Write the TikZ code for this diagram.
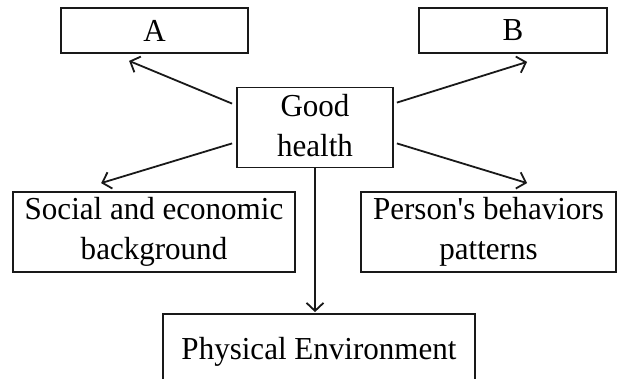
\documentclass[tikz,border=0pt]{standalone}
\usepackage{fontspec}
\setmainfont[FakeStretch=0.97]{Liberation Serif}
\usetikzlibrary{arrows.meta,calc}
\begin{document}
\begin{tikzpicture}[x=1pt,y={(0pt,-1pt)},
  box/.style={draw=black!90,line width=1.8pt,rectangle,inner sep=0pt,align=center,
    font=\fontsize{32}{40}\selectfont},
  arr/.style={draw=black!90,line width=1.8pt,-{Straight Barb[length=8pt,width=17pt,line width=1.8pt]}}]
\useasboundingbox (0,0) rectangle (619,378);
\clip (0,0) rectangle (619,378);
\node[box,minimum width=187pt,minimum height=45pt] (A) at (154.5,30.5) {A};
\node[box,minimum width=188pt,minimum height=45pt] (B) at (513,30.5) {B};
\node[box,text depth=5pt,minimum width=156pt,minimum height=80pt] (good) at (315,127.5) {Good\\health};
\node[box,minimum width=282pt,minimum height=80pt] (soc) at (154,232) {Social and economic\\background};
\node[box,minimum width=255pt,minimum height=80pt] (per) at (488.5,232) {Person\textquotesingle s behaviors\\patterns};
\node[box,minimum width=312pt,minimum height=76pt] (phy) at (319,352) {Physical Environment};
\draw[arr] ($(good.north west)+(-4,17)$) -- ($(A.south west)+(69,7)$);
\draw[arr] ($(good.north east)+(3,16)$) -- ($(B.south west)+(109,8)$);
\draw[arr] ($(good.south west)+(-4,-25)$) -- ($(soc.north west)+(89,-8)$);
\draw[arr] ($(good.south east)+(3,-25)$) -- ($(per.north west)+(167,-8)$);
\draw[arr,shorten >=1pt] (good.south) -- (good.south |- phy.north);
\end{tikzpicture}
\end{document}
